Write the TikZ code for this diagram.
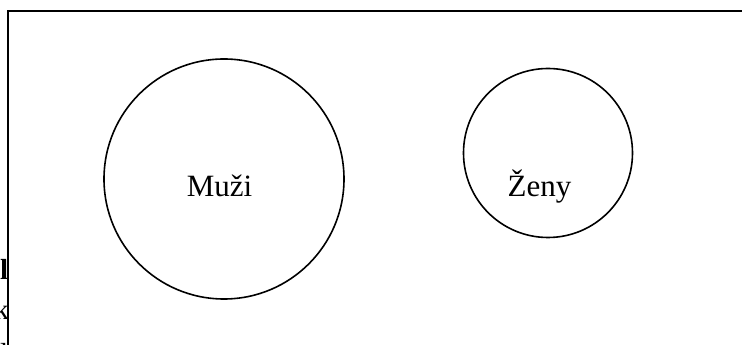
\documentclass[tikz,border=0pt]{standalone}
\usepackage{fontspec}
\setmainfont{Liberation Serif}
\begin{document}
\begin{tikzpicture}[x=1pt,y=1pt,
  group/.style={draw,circle,line width=1.6pt,inner sep=0pt},
  lbl/.style={anchor=base,inner sep=0pt,font=\fontsize{31}{37}\selectfont},
  frag/.style={anchor=base east,inner sep=0pt,font=\fontsize{29}{35}\selectfont}]
\useasboundingbox (0,0) rectangle (742,345);
% clipped text at the left edge
\begin{scope}
\clip (0,0) rectangle (7,345);
\node[frag] (fragA) at (8.5,65) {\textbf{l}};
\node[frag] (fragB) at (9,25) {k};
\node[frag] (fragC) at (8.5,-19) {l};
\end{scope}
% frame
\draw[line width=2pt] (7.5,-2) -- (7.5,333.5) -- (745,333.5);
% groups
\node[group,minimum size=240pt] (muzi) at (224,166) {};
\node[group,minimum size=169pt] (zeny) at (548,192) {};
\node[lbl] (muziText) at (219.5,148) {Muži};
\node[lbl] (zenyText) at (539.5,148) {Ženy};
\end{tikzpicture}
\end{document}
